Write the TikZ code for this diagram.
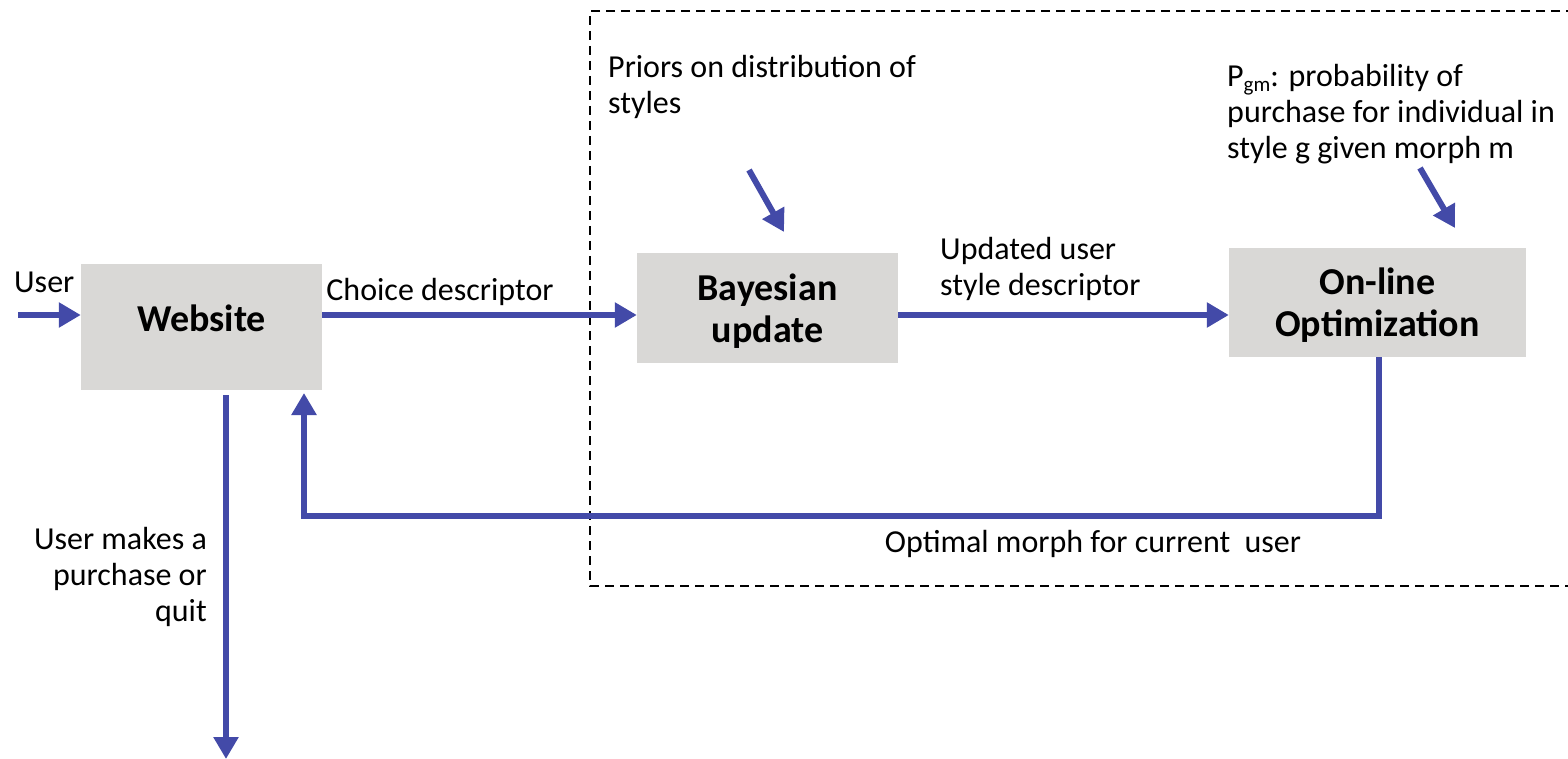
\documentclass[tikz,border=0pt]{standalone}
\usepackage{fontspec}
\setmainfont{Carlito}
\usepackage{xcolor}
\definecolor{FlowBlue}{HTML}{434AA8}
\definecolor{BoxGray}{HTML}{D9D8D6}
\usepackage{tikz}
\usetikzlibrary{arrows.meta, positioning, calc}

\begin{document}
\begin{tikzpicture}[
    x=1pt, y=-1pt,
    font=\fontsize{32}{36}\selectfont,
    >={Triangle[length=22pt,width=24pt]},
    stage_box/.style={rectangle, fill=BoxGray, inner sep=0pt, align=center, font=\fontsize{38}{42}\selectfont\bfseries},
    flow_arrow/.style={->, FlowBlue, line width=6pt},
    note_text/.style={inner sep=0pt, align=left},
    frame_line/.style={line width=1.6pt, dash pattern=on 9pt off 6pt}
]
    \useasboundingbox (0,0) rectangle (1568,759);

    % 1. DASHED FRAME (open on the right)
    \draw[frame_line] (1575,11) -- (590,11) -- (590,586) -- (1575,586);

    % 2. THE STAGES
    \node[stage_box, minimum width=241pt, minimum height=126pt, text height=27pt, text depth=18pt] (web) at (201.5,327) {Website};
    \node[stage_box, minimum width=261pt, minimum height=110pt, text depth=0pt] (bay) at (767.5,308) {Bayesian\\update};
    \node[stage_box, minimum width=297pt, minimum height=109pt, text depth=0pt] (opt) at (1377.5,302.5) {On-line\\Optimization};

    % 3. FREE ENDS
    \coordinate (user_in) at (18,315);
    \coordinate (prior_tail) at (749,170);
    \coordinate (prior_head) at (784,232);
    \coordinate (pgm_tail) at (1420,168);
    \coordinate (pgm_head) at (1455,228);
    \coordinate (fb_corner) at (1379,516);
    \coordinate (fb_end) at (304,393);
    \coordinate (exit_end) at (226,759);

    % 4. MAIN FLOW
    \draw[flow_arrow] (user_in) -- (user_in -| web.west);
    \draw[flow_arrow] (web.east |- user_in) -- (bay.west |- user_in);
    \draw[flow_arrow] (bay.east |- user_in) -- (opt.west |- user_in);
    \draw[flow_arrow] (prior_tail) -- (prior_head);
    \draw[flow_arrow] (pgm_tail) -- (pgm_head);

    % 5. FEEDBACK AND EXIT
    \draw[flow_arrow] (opt.south -| fb_corner) -- (fb_corner) -- (fb_corner -| fb_end) -- (fb_end);
    \draw[flow_arrow, shorten <=5pt] (web.south -| exit_end) -- (exit_end);

    % 6. LABELS
    \node[note_text, anchor=base west] (user_lbl) at (14,292) {User};
    \node[note_text, anchor=base] (choice_lbl) at (440,300) {Choice descriptor};
    \node[note_text, anchor=north west] (upd_lbl) at (940,237) {Updated user\\style descriptor};
    \node[note_text, anchor=north west] (prior_lbl) at (608,55) {Priors on distribution of\\styles};
    \node[note_text, anchor=north west] (pgm_lbl) at (1227,64) {P\raisebox{-0.35ex}{\fontsize{21}{21}\selectfont gm}: probability of\\purchase for individual in\\style g given morph m};
    \node[note_text, align=right, anchor=north east] (exit_lbl) at (207,527) {User makes a\\purchase or\\quit};
    \node[note_text, anchor=base] (opt_lbl) at (1093,552) {Optimal morph for current~ user};

\end{tikzpicture}
\end{document}
